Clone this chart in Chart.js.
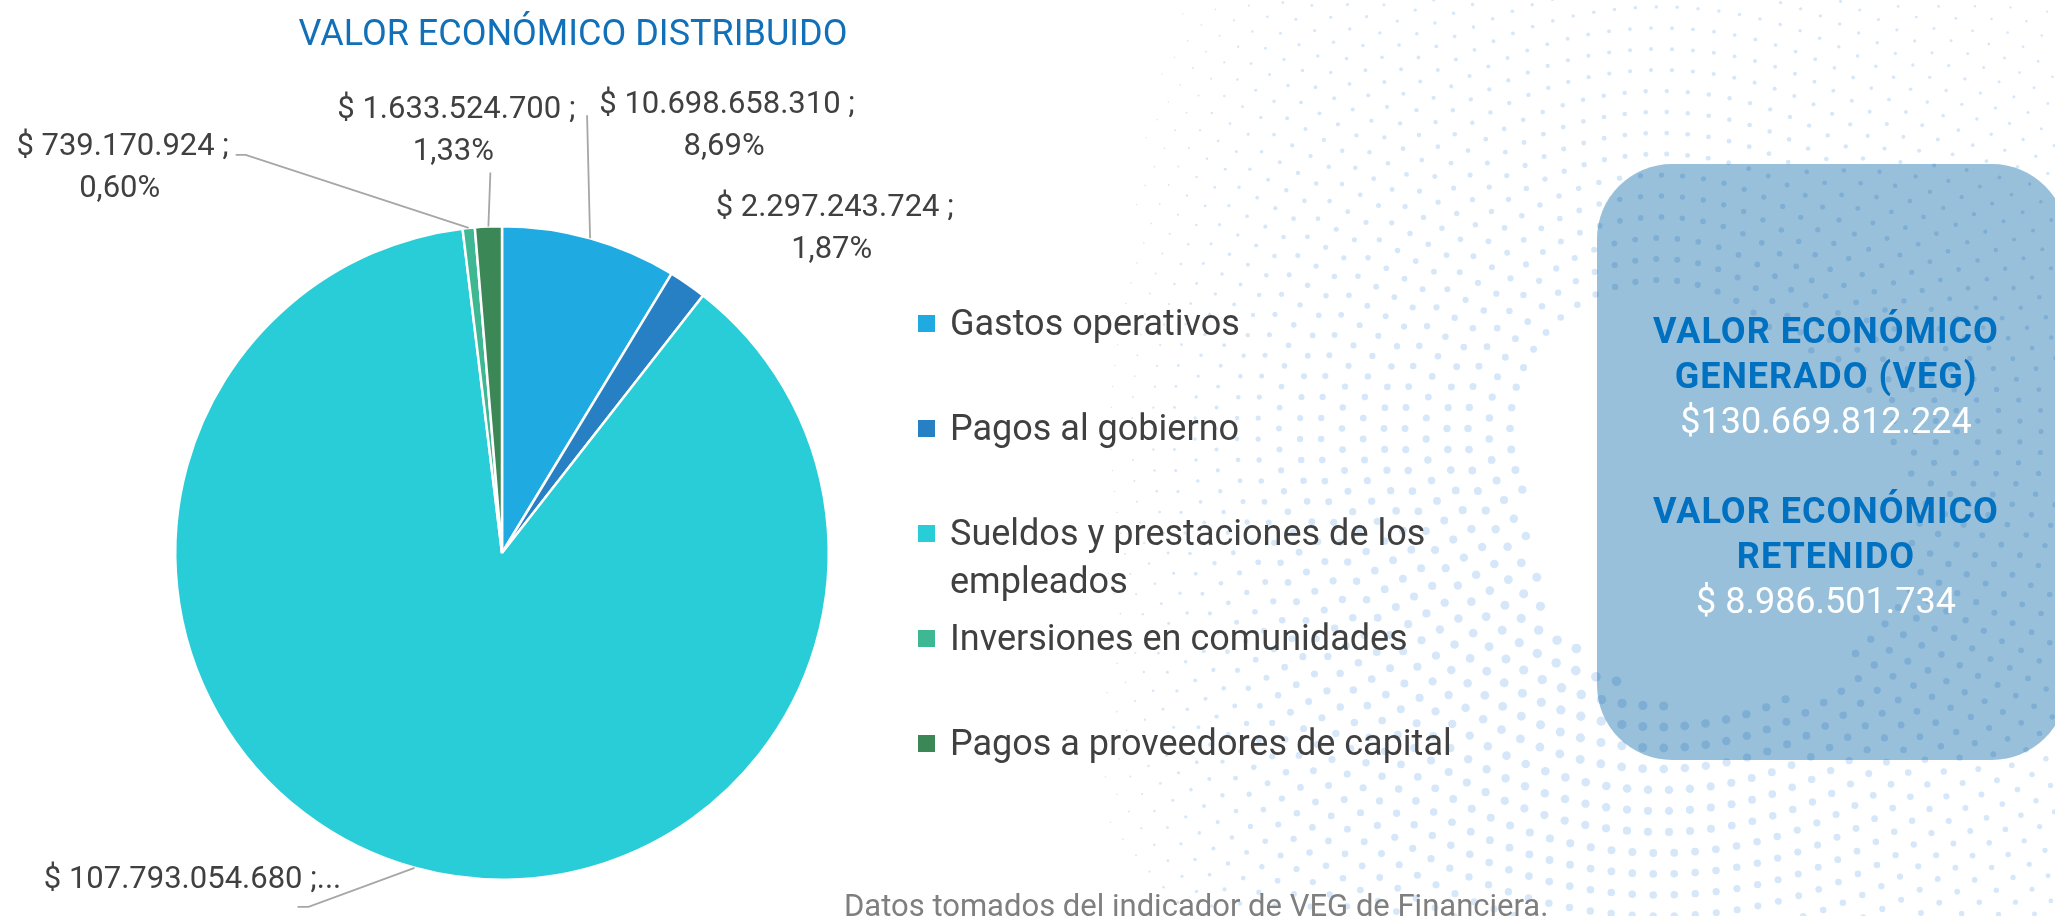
<!DOCTYPE html>
<html lang="es">
<head>
<meta charset="utf-8">
<title>Valor económico distribuido</title>
<script src="https://cdn.jsdelivr.net/npm/chart.js@4.4.1/dist/chart.umd.min.js"></script>
<style>
  html, body { margin: 0; padding: 0; background: #fff; }
  body { width: 2055px; height: 916px; position: relative; overflow: hidden; font-family: Roboto, "Noto Sans", sans-serif; }
  #bg { position: absolute; left: 0; top: 0; }
  #veg-box { position: absolute; left: 1597px; top: 164px; width: 470px; height: 596px; border-radius: 75px; background: #98c0da; mix-blend-mode: multiply; }
  #veg-text { position: absolute; left: 1597px; top: 309px; width: 458px; text-align: center; font-size: 36px; line-height: 45px; color: #fff; }
  #veg-text b { color: #0070c0; font-weight: 700; letter-spacing: 1px; }
  #chart-wrap { position: absolute; left: 0; top: 0; width: 1130px; height: 916px; }
  #title { position: absolute; left: 273px; width: 600px; top: 12px; text-align: center; font-size: 36px; line-height: 42px; color: #1270b8; }
  #legend { position: absolute; left: 918px; top: 299px; margin: 0; padding: 0; list-style: none; }
  #legend li { display: flex; align-items: flex-start; height: 105px; }
  #legend .sw { width: 17px; height: 17px; margin-top: 16px; flex: none; }
  #legend .tx { margin-left: 15px; max-width: 520px; font-size: 36px; line-height: 48px; color: #404040; }
  #note { position: absolute; left: 844px; top: 886px; font-size: 31px; line-height: 40px; color: #7f7f7f; white-space: nowrap; }
</style>
</head>
<body>
<canvas id="bg" width="2055" height="916"></canvas>
<div id="veg-box"></div>
<div id="veg-text">
  <b>VALOR ECONÓMICO<br>GENERADO (VEG)</b><br>$130.669.812.224<br><br>
  <b>VALOR ECONÓMICO<br>RETENIDO</b><br>$ 8.986.501.734
</div>
<div id="chart-wrap"><canvas id="pie"></canvas></div>
<div id="title">VALOR ECONÓMICO DISTRIBUIDO</div>
<ul id="legend"></ul>
<div id="note">Datos tomados del indicador de VEG de Financiera.</div>

<script>
const categories = [
  "Gastos operativos",
  "Pagos al gobierno",
  "Sueldos y prestaciones de los empleados",
  "Inversiones en comunidades",
  "Pagos a proveedores de capital"
];
const values = [10698658310, 2297243724, 107793054680, 739170924, 1633524700];
const colors = ["#1fabe2", "#2780c4", "#29cdd7", "#3eb892", "#3b8756"];

// where each data label sits, relative to the middle of its slice's outer edge
const labelPlacement = [
  { dx: 137, dy: -133, end: [-140, 10], stub: 0 },
  { dx: 147, dy: -76, end: null },
  { dx: -222, dy: 12, end: [116, 27], stub: -11, truncate: true },
  { dx: -346, dy: -81, end: [123, 8], stub: -10 },
  { dx: -32, dy: -116, end: [34, 62], stub: 0 }
];

function fmtMoney(v) {
  return String(v).replace(/\B(?=(\d{3})+(?!\d))/g, ".");
}

// decorative dotted background
function drawDots() {
  const ctx = document.getElementById("bg").getContext("2d");
  ctx.fillStyle = "#d5e7f8";
  const cx = 1660, cy = 430;
  for (let r = 150; r < 680; r += 21) {
    const n = Math.round(2 * Math.PI * r / 21);
    const shift = (r / 21) * 0.5;
    for (let i = 0; i < n; i++) {
      const a = (i + shift) / n * 2 * Math.PI;
      const x = cx + r * Math.cos(a), y = cy + r * Math.sin(a);
      if (x < -10 || x > 2065 || y < -10 || y > 926) continue;
      if (Math.hypot(x - 1720, y - 520) < 190) continue;
      const d = Math.hypot(x - 1600, y - 650);
      const fade = Math.min(1, Math.max(0, (x - 1030) / 260));
      const s = 5 * (1 - d / 1000) * fade;
      if (s < 0.7) continue;
      ctx.beginPath();
      ctx.arc(x, y, s, 0, Math.PI * 2);
      ctx.fill();
    }
  }
}
drawDots();

const sliceLabels = {
  id: "sliceLabels",
  afterDatasetsDraw(chart) {
    const ctx = chart.ctx;
    const data = chart.data.datasets[0].data;
    const total = data.reduce((a, b) => a + b, 0);
    chart.getDatasetMeta(0).data.forEach((arc, i) => {
      const { x, y, startAngle, endAngle, outerRadius } =
        arc.getProps(["x", "y", "startAngle", "endAngle", "outerRadius"], true);
      const mid = (startAngle + endAngle) / 2;
      const ex = x + Math.cos(mid) * outerRadius;
      const ey = y + Math.sin(mid) * outerRadius;
      const p = labelPlacement[i];
      const ax = ex + p.dx, ay = ey + p.dy;

      ctx.save();
      if (p.end) {
        ctx.strokeStyle = "#a6a6a6";
        ctx.lineWidth = 1.8;
        ctx.beginPath();
        ctx.moveTo(ex, ey);
        ctx.lineTo(ax + p.end[0], ay + p.end[1]);
        if (p.stub) ctx.lineTo(ax + p.end[0] + p.stub, ay + p.end[1]);
        ctx.stroke();
      }
      ctx.font = "31px Roboto";
      ctx.fillStyle = "#404040";
      ctx.textAlign = "center";
      ctx.textBaseline = "middle";
      const money = "$ " + fmtMoney(data[i]) + " ;";
      const pct = (data[i] / total * 100).toFixed(2).replace(".", ",") + "%";
      if (p.truncate) {
        ctx.fillText(money + "...", ax, ay);
      } else {
        ctx.fillText(money, ax, ay);
        ctx.fillText(pct, ax - 3, ay + 42);
      }
      ctx.restore();
    });
  }
};

const chart = new Chart(document.getElementById("pie"), {
  type: "pie",
  data: {
    labels: categories,
    datasets: [{
      data: values,
      backgroundColor: colors,
      borderColor: "#ffffff",
      borderWidth: 2.5
    }]
  },
  options: {
    responsive: true,
    maintainAspectRatio: false,
    animation: false,
    layout: { padding: { left: 174, right: 300, top: 225, bottom: 35 } },
    plugins: {
      legend: { display: false },
      tooltip: { enabled: false }
    }
  },
  plugins: [sliceLabels]
});

// html legend built from the chart's own legend items
const legendEl = document.getElementById("legend");
Chart.overrides.pie.plugins.legend.labels.generateLabels(chart).forEach(item => {
  const li = document.createElement("li");
  const sw = document.createElement("span");
  sw.className = "sw";
  sw.style.background = item.fillStyle;
  const tx = document.createElement("span");
  tx.className = "tx";
  tx.textContent = item.text;
  li.appendChild(sw);
  li.appendChild(tx);
  legendEl.appendChild(li);
});
</script>
</body>
</html>
